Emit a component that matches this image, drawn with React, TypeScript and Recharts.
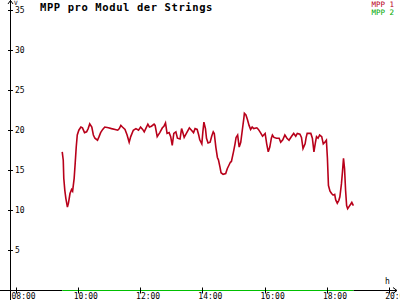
import React from 'react';
import { LineChart, Line, XAxis, YAxis, ReferenceLine } from 'recharts';

// time in minutes since midnight
const mpp1Times = [
  570, 572, 573, 575, 577, 580, 582, 585, 588, 590,
  593, 595, 597, 599, 602, 606, 609, 613, 617, 620,
  623, 627, 630, 633, 638, 641, 644, 648, 652, 659,
  665, 672, 677, 680, 683, 686, 691, 695, 699, 702,
  707, 712, 717, 721, 725, 728, 731, 735, 738, 742,
  747, 749, 753, 758, 763, 766, 769, 772, 776, 779,
  782, 785, 789, 792, 797, 800, 802, 805, 810, 815,
  819, 823, 826, 830, 833,
  835, 839, 841, 843, 846, 848, 851, 855, 858, 861,
  863, 866, 869, 871, 874, 876, 880, 885, 888, 891,
  894, 896, 900, 903, 905, 908, 911, 914, 917, 920,
  921, 924, 927, 930, 933, 936, 939, 945, 948, 952,
  956, 961, 964, 967, 970, 973, 975, 978, 983, 988,
  991, 995, 999, 1003, 1007, 1012, 1016, 1020, 1023, 1028,
  1031, 1034, 1038, 1040, 1042, 1049, 1052, 1054, 1055, 1058,
  1060, 1063, 1066, 1070, 1073, 1076, 1079, 1081, 1083, 1086,
  1089, 1092, 1095, 1097, 1100, 1103, 1105, 1108, 1110, 1112,
  1114, 1116, 1118, 1120, 1123, 1126, 1128, 1131,
];

const mpp1Values = [
  17.3, 16.25, 14, 12.5, 11.5, 10.4, 10.9, 12.1, 12.6, 12.4,
  14, 15.9, 17.9, 19.4, 20, 20.4, 20.3, 19.7, 19.8, 20.2,
  20.8, 20.4, 19.4, 19, 18.75, 19.2, 19.7, 20.1, 20.4, 20.3,
  20.2, 20.1, 20, 20.2, 20.6, 20.4, 20.1, 19.4, 18.5, 19.2,
  20, 20.2, 20, 20.4, 20.1, 19.8, 20.2, 20.75, 20.4, 20.5,
  20.75, 20.6, 19.2, 19.7, 20.3, 20.5, 20.9, 19.6, 19.7, 19.2,
  18.1, 19.6, 19.8, 19, 18.9, 20.2, 19.8, 19.1, 19.7, 20.3,
  20, 19.7, 20.2, 20.1, 19.4,
  18.8, 18.3, 19.8, 21.0, 20.2, 19.0, 18.4, 18.5, 19.25, 19.8,
  19.6, 17.9, 16.6, 16.3, 15.4, 14.7, 14.5, 14.6, 15.2, 15.6,
  16.0, 16.1, 17.3, 18.3, 19.1, 19.4, 17.9, 18.5, 20, 21.5,
  22.1, 21.9, 21.3, 20.6, 20.1, 20.4, 20.2, 20.3, 20.1, 19.7,
  19.25, 19.6, 18.3, 17.3, 17.9, 19, 19.4, 19.1, 19.0, 19.0,
  18.5, 18.8, 19.4, 19, 18.75, 19.25, 19.6, 19.25, 19.6, 19.5,
  19.1, 17.7, 18.3, 19.1, 19.6, 19.6, 19.0, 17.9, 17.3, 18.5,
  19.2, 19, 19.4, 19.2, 18.3, 18.5, 18.75, 16.5, 13.1, 12.4,
  12.1, 11.9, 12.0, 11.3, 10.9, 11.25, 11.7, 13.3, 14.8, 16.5,
  15.2, 12.5, 10.6, 10.2, 10.5, 10.8, 11.0, 10.6,
];

const mpp2Times = [570, 1131];
const mpp2Values = [0, 0];

const xTickValues = [480, 600, 720, 840, 960, 1080, 1200];
const xTickLabels = ['08:00', '10:00', '12:00', '14:00', '16:00', '18:00', '20:00'];
const yTickValues = [5, 10, 15, 20, 25, 30, 35];

const seriesNames = ['MPP 1', 'MPP 2'];
const title = 'MPP pro Modul der Strings';
const yUnit = 'V';
const xUnit = 'h';

const RED = '#b8001a';
const GREEN = '#00c000';
const LEGEND_GREEN = '#00a800';
const FONT = '"DejaVu Sans Mono", monospace';

const data1 = mpp1Times.map((t, i) => ({ t, v: mpp1Values[i] }));
const data2 = mpp2Times.map((t, i) => ({ t, v: mpp2Values[i] }));

const X_DOMAIN: [number, number] = [471.3, 1217];
const X_AXIS_START = 450;
const X_AXIS_END = 1215;

const XTick = (props: any) => {
  const { x, y, payload } = props;
  const idx = xTickValues.indexOf(payload.value);
  const cx = Math.round(x) + 0.5;
  return (
    <g>
      <line x1={cx} x2={cx} y1={y - 3} y2={y + 3} stroke="#000" strokeWidth={1} />
      <text x={x - 4} y={y + 8.5} fontFamily={FONT} fontSize={8} fill="#000" textAnchor="start">
        {xTickLabels[idx]}
      </text>
    </g>
  );
};

const YTick = (props: any) => {
  const { x, y, payload } = props;
  const cy = Math.round(y) + 0.5;
  return (
    <g>
      <line x1={x - 3} x2={x + 2} y1={cy} y2={cy} stroke="#000" strokeWidth={1} />
      <text x={x + 4} y={y + 3} fontFamily={FONT} fontSize={8} fill="#000" textAnchor="start">
        {payload.value}
      </text>
    </g>
  );
};

const vAxisShape = (props: any) => {
  const { x1, y1, y2 } = props;
  const x = Math.round(x1) - 0.5;
  const top = Math.min(y1, y2);
  const bottom = Math.max(y1, y2);
  return (
    <g>
      <line x1={x} x2={x} y1={top} y2={bottom} stroke="#000" strokeWidth={1} />
      <polyline points={`${x - 2.5},${top + 4} ${x},${top + 0.5} ${x + 2.5},${top + 4}`} fill="none" stroke="#000" strokeWidth={1} />
    </g>
  );
};

const hStubShape = (props: any) => {
  const { x1, x2, y1 } = props;
  const left = Math.min(x1, x2);
  const right = Math.max(x1, x2);
  return <line x1={left} x2={right} y1={y1} y2={y1} stroke="#000" strokeWidth={1} />;
};

const hArrowShape = (props: any) => {
  const { x1, x2, y1 } = props;
  const y = y1;
  const left = Math.min(x1, x2);
  const right = Math.max(x1, x2);
  return (
    <g>
      <line x1={left} x2={right} y1={y} y2={y} stroke="#000" strokeWidth={1} />
      <polyline points={`${right - 4},${y - 3} ${right},${y} ${right - 4},${y + 3}`} fill="none" stroke="#000" strokeWidth={1} />
    </g>
  );
};

export default function App() {
  return (
    <div style={{ position: 'absolute', left: 0, top: 0, width: 400, height: 300, background: '#fff' }}>
      <LineChart width={400} height={300} margin={{ top: 10, right: 2, bottom: 0, left: 0 }}>
        <XAxis
          type="number"
          dataKey="t"
          domain={X_DOMAIN}
          ticks={xTickValues}
          interval={0}
          height={9.5}
          axisLine={false}
          tickLine={false}
          tickSize={0}
          tickMargin={0}
          tick={<XTick />}
        />
        <YAxis
          type="number"
          domain={[0, 35]}
          ticks={yTickValues}
          interval={0}
          width={11}
          axisLine={false}
          tickLine={false}
          tickSize={0}
          tickMargin={0}
          tick={<YTick />}
        />
        <ReferenceLine
          segment={[{ x: X_DOMAIN[0], y: -1.25 }, { x: X_DOMAIN[0], y: 36.25 }]}
          ifOverflow="visible"
          shape={vAxisShape}
        />
        <ReferenceLine
          segment={[{ x: X_AXIS_START, y: 0 }, { x: mpp2Times[0], y: 0 }]}
          ifOverflow="visible"
          shape={hStubShape}
        />
        <ReferenceLine
          segment={[{ x: mpp2Times[mpp2Times.length - 1], y: 0 }, { x: X_AXIS_END, y: 0 }]}
          ifOverflow="visible"
          shape={hArrowShape}
        />
        <Line
          data={data2}
          dataKey="v"
          type="linear"
          stroke={GREEN}
          strokeWidth={1}
          dot={false}
          activeDot={false}
          isAnimationActive={false}
        />
        <Line
          data={data1}
          dataKey="v"
          type="linear"
          stroke={RED}
          strokeWidth={1.6}
          dot={false}
          activeDot={false}
          isAnimationActive={false}
        />
      </LineChart>
      <svg width={400} height={300} style={{ position: 'absolute', left: 0, top: 0, pointerEvents: 'none' }}>
        <text x={40} y={11} fontFamily={FONT} fontSize={10.5} fontWeight="bold" letterSpacing={0.6} fill="#000">
          {title}
        </text>
        <text x={14} y={4.5} fontFamily={FONT} fontSize={6} fill="#000">{yUnit}</text>
        <text x={385} y={284} fontFamily={FONT} fontSize={8} fill="#000">{xUnit}</text>
        <text x={394} y={7} fontFamily={FONT} fontSize={7.5} fill={RED} textAnchor="end">{seriesNames[0]}</text>
        <text x={394} y={15} fontFamily={FONT} fontSize={7.5} fill={LEGEND_GREEN} textAnchor="end">{seriesNames[1]}</text>
      </svg>
    </div>
  );
}
